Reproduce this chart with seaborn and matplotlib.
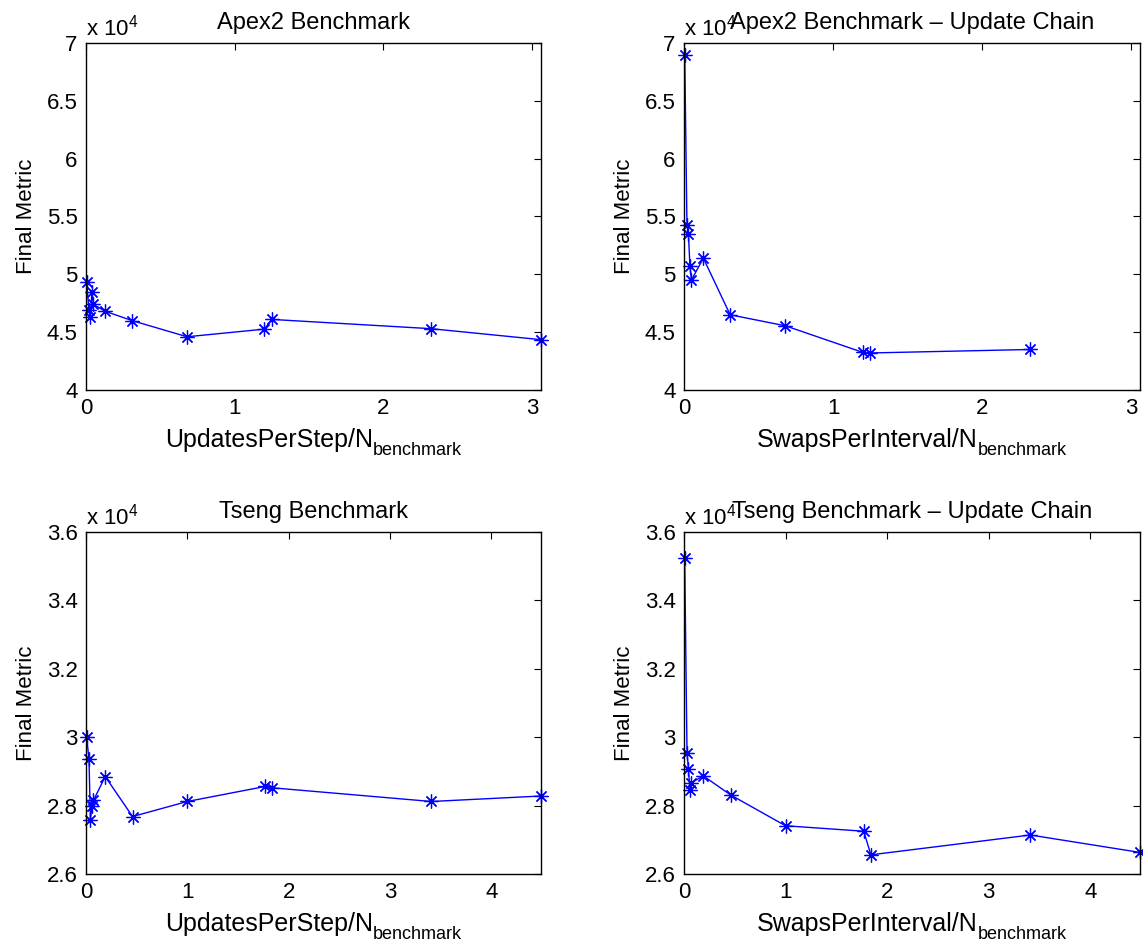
import matplotlib
matplotlib.use('Agg')
import matplotlib.pyplot as plt
from matplotlib.ticker import FuncFormatter, MultipleLocator
from matplotlib.transforms import offset_copy
import pandas as pd
import seaborn as sns

sns.set_theme(style='white')
plt.rcParams['font.family'] = ['Liberation Sans', 'DejaVu Sans']
plt.rcParams['mathtext.default'] = 'regular'
plt.rcParams['text.color'] = 'black'
plt.rcParams['axes.labelcolor'] = 'black'

# Apex2: x = UpdatesPerStep/N (or SwapsPerInterval/N)
apex_x = [0.005, 0.02, 0.03, 0.04, 0.05, 0.13, 0.31, 0.68, 1.20, 1.25, 2.32, 3.06]
apex_metric = [49300, 46900, 46300, 48500, 47400, 46800, 46000, 44600, 45260, 46100, 45300, 44350]
apex_chain_x = [0.005, 0.02, 0.03, 0.04, 0.05, 0.13, 0.31, 0.68, 1.20, 1.25, 2.32]
apex_chain_metric = [69000, 54300, 53500, 50700, 49500, 51400, 46500, 45550, 43250, 43200, 43500]

# Tseng
tseng_x = [0.007, 0.03, 0.044, 0.059, 0.074, 0.19, 0.46, 1.00, 1.77, 1.84, 3.41, 4.49]
tseng_metric = [30000, 29350, 27580, 28000, 28150, 28850, 27680, 28120, 28560, 28520, 28120, 28280]
tseng_chain_metric = [35250, 29550, 29060, 28460, 28670, 28870, 28310, 27410, 27250, 26560, 27140, 26630]

panels = [
    # x, y, title, xlabel, xmax, ylim, ystep, axes rect
    (apex_x, apex_metric, 'Apex2 Benchmark', 'UpdatesPerStep/N', 3.06,
     (40000, 70000), 5000, [0.0752, 0.5882, 0.398, 0.3664]),
    (apex_chain_x, apex_chain_metric, 'Apex2 Benchmark \u2013 Update Chain', 'SwapsPerInterval/N', 3.06,
     (40000, 70000), 5000, [0.5984, 0.5882, 0.399, 0.3664]),
    (tseng_x, tseng_metric, 'Tseng Benchmark', 'UpdatesPerStep/N', 4.49,
     (26000, 36000), 2000, [0.0752, 0.0771, 0.398, 0.3611]),
    (tseng_x, tseng_chain_metric, 'Tseng Benchmark \u2013 Update Chain', 'SwapsPerInterval/N', 4.49,
     (26000, 36000), 2000, [0.5984, 0.0771, 0.399, 0.3611]),
]

fig = plt.figure(figsize=(11.43, 9.47), dpi=100)
fig.patch.set_facecolor('white')
renderer = fig.canvas.get_renderer()

for xs, ys, title, xname, xmax, ylim, ystep, rect in panels:
    ax = fig.add_axes(rect)
    df = pd.DataFrame({'x': xs, 'y': ys})
    sns.lineplot(data=df, x='x', y='y', ax=ax, sort=False, estimator=None,
                 color='blue', linewidth=1.0, marker=(8, 2, 0), markersize=10,
                 markeredgecolor='blue', markeredgewidth=0.9, clip_on=False)
    ax.set_xlim(0, xmax)
    ax.set_ylim(*ylim)
    ax.xaxis.set_major_locator(MultipleLocator(1))
    ax.yaxis.set_major_locator(MultipleLocator(ystep))
    ax.yaxis.set_major_formatter(FuncFormatter(lambda v, p: f'{v / 1e4:g}'))
    ax.tick_params(direction='in', top=True, right=True, length=5, width=0.8,
                   labelsize=16, colors='black', pad=6)
    for s in ax.spines.values():
        s.set_color('black')
        s.set_linewidth(1.0)
    ax.set_title(title, fontsize=17, pad=10, color='black')
    ax.set_xlabel('')
    ax.set_ylabel('Final Metric', fontsize=16, labelpad=7)
    ax.text(0.0, 1.008, 'x 10$^{4}$', transform=ax.transAxes, fontsize=16,
            ha='left', va='bottom')
    ax.grid(False)

    # x label with a big MATLAB-style subscript, centred under the axes
    t_main = ax.text(0.5, 0, xname, fontsize=18, ha='left', va='baseline',
                     transform=ax.transAxes)
    t_sub = ax.text(0.5, 0, 'benchmark', fontsize=13, ha='left', va='baseline',
                    transform=ax.transAxes)
    w1 = t_main.get_window_extent(renderer).width
    w2 = t_sub.get_window_extent(renderer).width
    x0 = -(w1 + w2) / 2
    t_main.set_transform(offset_copy(ax.transAxes, fig=fig, x=x0, y=-57, units='dots'))
    t_sub.set_transform(offset_copy(ax.transAxes, fig=fig, x=x0 + w1, y=-65, units='dots'))

fig.savefig('out.png', dpi=100, facecolor='white')
